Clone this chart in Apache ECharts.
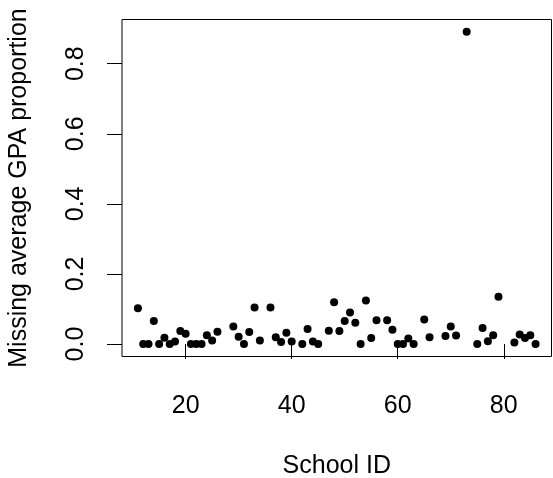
<!DOCTYPE html>
<html>
<head>
<meta charset="utf-8">
<script src="https://cdn.jsdelivr.net/npm/echarts@6/dist/echarts.min.js"></script>
<style>
  html, body { margin: 0; padding: 0; background: #fff; }
  #chart { width: 553px; height: 478px; }
</style>
</head>
<body>
<div id="chart"></div>
<script>
// 学校编号与 GPA 缺失比例
const schoolIds = [11, 12, 13, 14, 15, 16, 17, 18, 19, 20, 21, 22, 23, 24, 25, 26,
  29, 30, 31, 32, 33, 34, 36, 37, 38, 39, 40, 42, 43, 44, 45, 47, 48, 49, 50, 51,
  52, 53, 54, 55, 56, 58, 59, 60, 61, 62, 63, 65, 66, 69, 70, 71, 73, 75, 76, 77,
  78, 79, 82, 83, 84, 85, 86];
const missingProp = [0.102, 0, 0, 0.066, 0, 0.018, 0, 0.007, 0.037, 0.029, 0, 0, 0, 0.025, 0.010, 0.035,
  0.050, 0.021, 0, 0.034, 0.104, 0.010, 0.104, 0.019, 0.006, 0.032, 0.007, 0, 0.043, 0.007, 0, 0.038, 0.119, 0.037, 0.066, 0.090,
  0.061, 0, 0.124, 0.017, 0.068, 0.068, 0.041, 0, 0, 0.016, 0, 0.070, 0.019, 0.023, 0.050, 0.024, 0.891, 0, 0.046, 0.008,
  0.025, 0.135, 0.004, 0.027, 0.017, 0.025, 0];
const xTicks = [20, 40, 60, 80];
const yTicks = [0, 0.2, 0.4, 0.6, 0.8];

const font = 'Liberation Sans, Arial, Helvetica, sans-serif';
const chart = echarts.init(document.getElementById('chart'));

const option = {
  backgroundColor: '#fff',
  animation: false,
  grid: {
    left: 122, right: 1.5, top: 19.5, bottom: 121.5,
    outerBoundsMode: 'none',
    containLabel: false,
    show: true, borderColor: '#000', borderWidth: 1, backgroundColor: 'transparent'
  },
  xAxis: {
    type: 'value',
    min: 8, max: 89,
    name: 'School ID',
    nameLocation: 'middle',
    nameGap: 97,
    nameTextStyle: { color: '#000', fontSize: 25, fontFamily: font },
    axisLine: { show: false },
    splitLine: { show: false },
    axisTick: { show: true, length: 15, customValues: xTicks, lineStyle: { color: '#000' } },
    axisLabel: {
      customValues: xTicks, margin: 37, color: '#000', fontSize: 25, fontFamily: font
    }
  },
  yAxis: {
    type: 'value',
    min: -0.0356, max: 0.9262,
    name: 'Missing average GPA proportion',
    nameLocation: 'middle',
    nameGap: 90,
    nameRotate: 90,
    nameTextStyle: { color: '#000', fontSize: 25, fontFamily: font },
    axisLine: { show: false },
    splitLine: { show: false },
    axisTick: { show: true, length: 15, customValues: yTicks, lineStyle: { color: '#000' } },
    axisLabel: {
      customValues: yTicks, rotate: 90, margin: 33, color: '#000', fontSize: 25, fontFamily: font,
      formatter: v => v.toFixed(1)
    }
  },
  series: [{
    type: 'scatter',
    data: schoolIds.map((id, i) => [id, missingProp[i]]),
    symbol: 'circle',
    symbolSize: 8,
    itemStyle: { color: '#000', opacity: 1 }
  }]
};

chart.setOption(option);
</script>
</body>
</html>
